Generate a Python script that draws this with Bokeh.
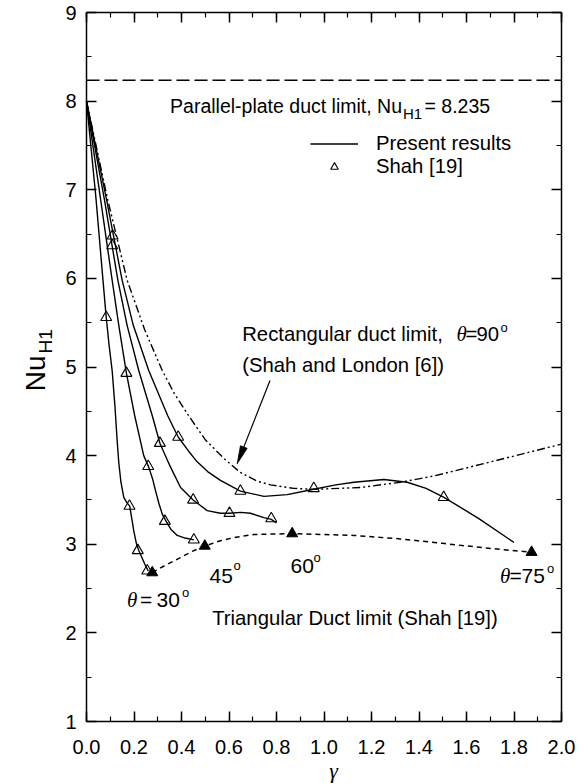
import math
from bokeh.plotting import figure
from bokeh.models import (Range1d, LinearAxis, SingleIntervalTicker, Label, Legend,
                          LegendItem, PrintfTickFormatter, CustomJSTickFormatter)
from bokeh.embed import file_html
from bokeh.resources import INLINE

# ---------------- data ----------------
# Present results, theta = 30, 45, 60, 75 deg
g30 = [0.0, 0.04, 0.07, 0.083, 0.095, 0.108, 0.12, 0.129, 0.136, 0.145, 0.157, 0.17, 0.182, 0.19, 0.199, 0.21, 0.22, 0.235, 0.248, 0.26]
n30 = [8.0, 6.9, 5.96, 5.56, 5.25, 4.96, 4.55, 4.17, 3.92, 3.70, 3.53, 3.47, 3.43, 3.30, 3.15, 3.01, 2.93, 2.84, 2.76, 2.70]

g45 = [0.0, 0.06, 0.108, 0.136, 0.168, 0.203, 0.241, 0.262, 0.278, 0.291, 0.305, 0.319, 0.333, 0.355, 0.382, 0.415, 0.452]
n45 = [8.0, 6.88, 5.98, 5.47, 4.93, 4.45, 4.00, 3.87, 3.74, 3.60, 3.46, 3.34, 3.27, 3.17, 3.10, 3.07, 3.05]

g60 = [0.0, 0.076, 0.132, 0.171, 0.22, 0.277, 0.309, 0.342, 0.354, 0.396, 0.449, 0.508, 0.564, 0.602, 0.65, 0.69, 0.747, 0.778, 0.80]
n60 = [8.0, 6.88, 5.98, 5.47, 4.96, 4.45, 4.14, 3.94, 3.87, 3.64, 3.50, 3.38, 3.35, 3.35, 3.36, 3.35, 3.30, 3.28, 3.24]

g75 = [0.0, 0.085, 0.15, 0.197, 0.262, 0.342, 0.386, 0.43, 0.466, 0.51, 0.564, 0.648, 0.747, 0.845, 0.957, 1.05, 1.126, 1.252, 1.35, 1.43, 1.505, 1.652, 1.80]
n75 = [8.0, 6.88, 5.98, 5.47, 4.96, 4.45, 4.21, 4.05, 3.93, 3.82, 3.72, 3.60, 3.54, 3.56, 3.62, 3.67, 3.70, 3.73, 3.70, 3.63, 3.53, 3.29, 3.02]

# Rectangular duct limit (Shah and London [6])
rect_g = [0.0, 0.09, 0.171, 0.245, 0.319, 0.37, 0.43, 0.50, 0.578, 0.648, 0.72, 0.775, 0.873, 0.957, 1.154, 1.322, 1.462, 1.673, 2.0]
rect_nu = [8.0, 6.88, 5.98, 5.42, 4.96, 4.70, 4.45, 4.18, 3.97, 3.81, 3.71, 3.67, 3.63, 3.62, 3.64, 3.70, 3.77, 3.91, 4.13]

# Triangular duct limit (Shah [19])
trl_g = [0.277, 0.33, 0.389, 0.445, 0.498, 0.564, 0.63, 0.704, 0.866, 1.0, 1.126, 1.322, 1.5, 1.603, 1.75, 1.874]
trl_nu = [2.68, 2.76, 2.84, 2.92, 2.98, 3.04, 3.08, 3.11, 3.12, 3.11, 3.10, 3.06, 3.01, 2.98, 2.94, 2.91]
tri_g = [0.277, 0.498, 0.866, 1.874]
tri_nu = [2.68, 2.98, 3.12, 2.91]

# Shah [19] data points (open triangles)
shah_g = [0.083, 0.181, 0.216, 0.256,
          0.168, 0.26, 0.33, 0.452,
          0.108, 0.309, 0.449, 0.602, 0.778,
          0.11, 0.386, 0.648, 0.957, 1.504]
shah_nu = [5.56, 3.43, 2.93, 2.70,
           4.93, 3.88, 3.26, 3.05,
           6.37, 4.14, 3.50, 3.35, 3.29,
           6.48, 4.21, 3.60, 3.63, 3.53]

parallel_plate_nu = 8.235
x_lim = (0.0, 2.0)
y_lim = (1.0, 9.0)
x_tick_step = 0.2
y_tick_step = 1.0

# ---------------- figure ----------------
W, H = 585, 784
L, R, T, B = 86, 24, 12, 63          # plot box inset inside the canvas
SANS = "Liberation Sans"
SERIF = "Liberation Serif"

sx = (W - L - R) / (x_lim[1] - x_lim[0])
sy = (H - T - B) / (y_lim[1] - y_lim[0])

p = figure(width=W, height=H, output_backend="svg", toolbar_location=None,
           x_range=Range1d(x_lim[0] - L / sx, x_lim[1] + R / sx),
           y_range=Range1d(y_lim[0] - B / sy, y_lim[1] + T / sy),
           x_axis_location=None, y_axis_location=None, min_border=0)
p.grid.visible = False
p.outline_line_color = None
p.background_fill_color = "white"
p.border_fill_color = "white"

def make_axis(step, fmt, labels, loc, bounds):
    ax = LinearAxis(ticker=SingleIntervalTicker(interval=step, num_minor_ticks=2),
                    fixed_location=loc, bounds=bounds)
    ax.major_tick_in = 10
    ax.major_tick_out = 0
    ax.minor_tick_in = 5
    ax.minor_tick_out = 0
    ax.axis_line_width = 1.5
    ax.major_tick_line_width = 1.5
    ax.minor_tick_line_width = 1.2
    ax.axis_line_color = "black"
    ax.major_tick_line_color = "black"
    ax.minor_tick_line_color = "black"
    if labels:
        ax.formatter = PrintfTickFormatter(format=fmt)
        ax.major_label_text_font = SANS
        ax.major_label_text_font_size = "20px"
        ax.major_label_text_color = "black"
    else:
        ax.formatter = CustomJSTickFormatter(code="return ''")
        ax.major_label_standoff = 0
        ax.major_label_text_font_size = "1px"
    return ax

xb = make_axis(x_tick_step, "%.1f", True, y_lim[0], x_lim)
xb.major_label_standoff = 18
yl = make_axis(y_tick_step, "%d", True, x_lim[0], y_lim)
yl.major_label_standoff = 10
xt = make_axis(x_tick_step, "%.1f", False, y_lim[1], x_lim)
yr = make_axis(y_tick_step, "%d", False, x_lim[1], y_lim)
p.add_layout(xb, "below")
p.add_layout(yl, "left")
p.add_layout(xt, "above")
p.add_layout(yr, "right")

# parallel plate limit
p.segment(x0=[x_lim[0]], y0=[parallel_plate_nu], x1=[x_lim[1]], y1=[parallel_plate_nu],
          line_color="black", line_width=1.5, line_dash="13 5")

# curves
lw = 1.4
r30 = p.line(g30, n30, line_color="black", line_width=lw)
p.line(g45, n45, line_color="black", line_width=lw)
p.line(g60, n60, line_color="black", line_width=lw)
p.line(g75, n75, line_color="black", line_width=lw)
p.line(rect_g, rect_nu, line_color="black", line_width=1.4, line_dash="8 3 2 3 2 3")
p.line(trl_g, trl_nu, line_color="black", line_width=1.5, line_dash="5 4")
p.scatter(tri_g, tri_nu, marker="triangle", size=11, fill_color="black", line_color="black")
rs = p.scatter(shah_g, shah_nu, marker="triangle", size=11, fill_color="white",
               fill_alpha=0.0, line_color="black", line_width=1.1)

# pixel -> data helpers for annotation placement
def X(px):
    return x_lim[0] + (px - L) / sx
def Y(py):
    return y_lim[1] - (py - T) / sy

# arrow to rectangular limit
a_start = (X(269.5), Y(380))
a_tip = (X(236.7), Y(463.3))
dxp = (a_tip[0] - a_start[0]) * sx
dyp = -(a_tip[1] - a_start[1]) * sy
ln = math.hypot(dxp, dyp)
ux, uy = dxp / ln, dyp / ln
hl, hw = 18.0, 3.6
bx, by = -ux * hl, -uy * hl
head_x = [a_tip[0], a_tip[0] + (bx - uy * hw) / sx, a_tip[0] + (bx + uy * hw) / sx]
head_y = [a_tip[1], a_tip[1] - (by + ux * hw) / sy, a_tip[1] - (by - ux * hw) / sy]
p.segment(x0=[a_start[0]], y0=[a_start[1]], x1=[a_tip[0] + bx * 0.8 / sx],
          y1=[a_tip[1] - by * 0.8 / sy], line_color="black", line_width=1.2)
p.patch(head_x, head_y, fill_color="black", line_color="black", line_width=0.8)

def lab(text, px, py, size, align="left", font=SANS, style="normal", angle=0.0,
        baseline="alphabetic"):
    p.add_layout(Label(x=X(px), y=Y(py), text=text, text_font=font,
                       text_font_size=f"{size}px", text_font_style=style,
                       text_align=align, text_baseline=baseline, angle=angle,
                       text_color="black"))

TS = 20.3
# parallel plate text
lab("Parallel-plate duct limit, Nu", 401.5, 105, 19.5, align="right")
lab("H1", 402.5, 113, 15)
lab("= 8.235", 424, 105, 19.5)

# rectangular limit text
lab("Rectangular duct limit,", 241.7, 333, TS)
lab("\u03b8", 456, 333, 21, font=SERIF, style="italic")
lab("=", 465, 333, TS)
lab("90", 476, 333, TS)
lab("o", 500, 327, 13)
lab("(Shah and London [6])", 241.7, 364, TS)

# triangular limit text
lab("Triangular Duct limit (Shah [19])", 211.7, 617, TS)

# angle labels
lab("\u03b8", 126.5, 599, 21, font=SERIF, style="italic")
lab("=", 139.5, 599, 21)
lab("30", 156, 599, 21)
lab("o", 181.5, 591.5, 13)
lab("45", 209, 575, 21)
lab("o", 233, 565, 13)
lab("60", 290, 565, 21)
lab("o", 313, 556.5, 13)
lab("\u03b8", 499.5, 575, 21, font=SERIF, style="italic")
lab("=", 509, 575, 21)
lab("75", 521, 575, 21)
lab("o", 546.5, 568, 13)

# axis titles
lab("\u03b3", 333, 770, 22, font=SERIF, style="italic", align="center")
lab("Nu", 35, 355, 28, align="right", angle=math.pi / 2)
lab("H1", 45, 353, 19, align="left", angle=math.pi / 2)

# legend (location measured from the bottom-left of the canvas-wide frame)
legend = Legend(items=[LegendItem(label="Present results", renderers=[r30]),
                       LegendItem(label="Shah [19]", renderers=[rs])],
                location=(310, H - 178), orientation="vertical",
                glyph_width=48, glyph_height=19, label_height=19, label_standoff=18,
                spacing=0, padding=0, margin=0, border_line_color=None,
                background_fill_alpha=0.0,
                label_text_font=SANS, label_text_font_size=f"{TS}px",
                label_text_color="black")
p.add_layout(legend, "center")

open("out.html", "w").write(file_html(p, INLINE))
